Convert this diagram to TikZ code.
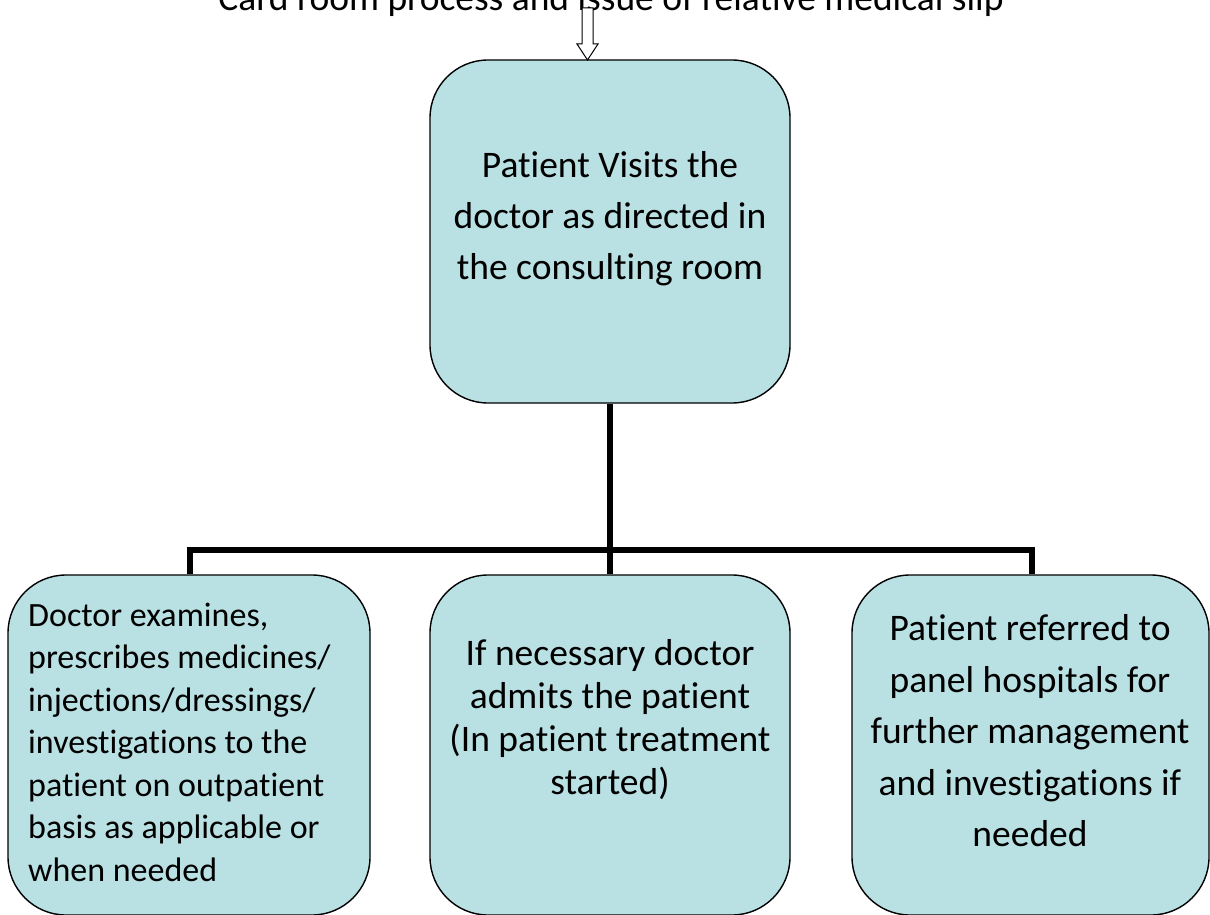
\documentclass[tikz,border=0pt]{standalone}
\usepackage{fontspec}
\setmainfont{Carlito}[RawFeature=-liga]
\definecolor{boxfill}{RGB}{185,224,227}
\begin{document}
\begin{tikzpicture}[x=1pt,y=-1pt,
  box/.style={draw=black,line width=1.4pt,fill=boxfill,rounded corners=58pt,inner sep=0pt},
  conn/.style={draw=black,line width=5.5pt},
  txt/.style={inner sep=0pt,font=\fontsize{37.5}{51}\selectfont}]
\useasboundingbox (0,0) rectangle (1210,915);
% title
\node[txt,anchor=base] (title) at (611,11) {Card room process and issue of relative medical slip};
% boxes
\node[box,minimum width=360pt,minimum height=343pt] (top) at (610,231.5) {};
\node[box,minimum width=362pt,minimum height=340pt] (left) at (189,745) {};
\node[box,minimum width=360pt,minimum height=340pt] (mid) at (610,745) {};
\node[box,minimum width=357pt,minimum height=340pt] (right) at (1030.5,745) {};
% texts
\node[txt,align=center] (ttop) at (610,219) {Patient Visits the\\doctor as directed in\\the consulting room};
\node[txt,align=left,anchor=west,font=\fontsize{34}{42.5}\selectfont] (tleft) at (28,742) {Doctor examines,\\prescribes medicines/\\injections/dressings/\\investigations to the\\patient on outpatient\\basis as applicable or\\when needed};
\node[txt,align=center,font=\fontsize{37.5}{43}\selectfont] (tmid) at (610,720) {If necessary doctor\\admits the patient\\(In patient treatment\\started)};
\node[txt,align=center,font=\fontsize{37.5}{51.5}\selectfont] (tright) at (1030,731) {Patient referred to\\panel hospitals for\\further management\\and investigations if\\needed};
% arrow
\coordinate (atop) at (587.5,8);
\draw[line width=1pt,fill=white] (582,8) -- (593,8) -- (593,44) -- (598,44) -- (587.5,60) -- (577,44) -- (582,44) -- cycle;
% connectors
\coordinate (j) at (610,550);
\draw[conn] (top.south) -- (mid.north);
\draw[conn] ([xshift=1pt]left.north) -- ([xshift=1pt]left.north |- j) -- ([xshift=1.5pt]right.north |- j) -- ([xshift=1.5pt]right.north);
\end{tikzpicture}
\end{document}
